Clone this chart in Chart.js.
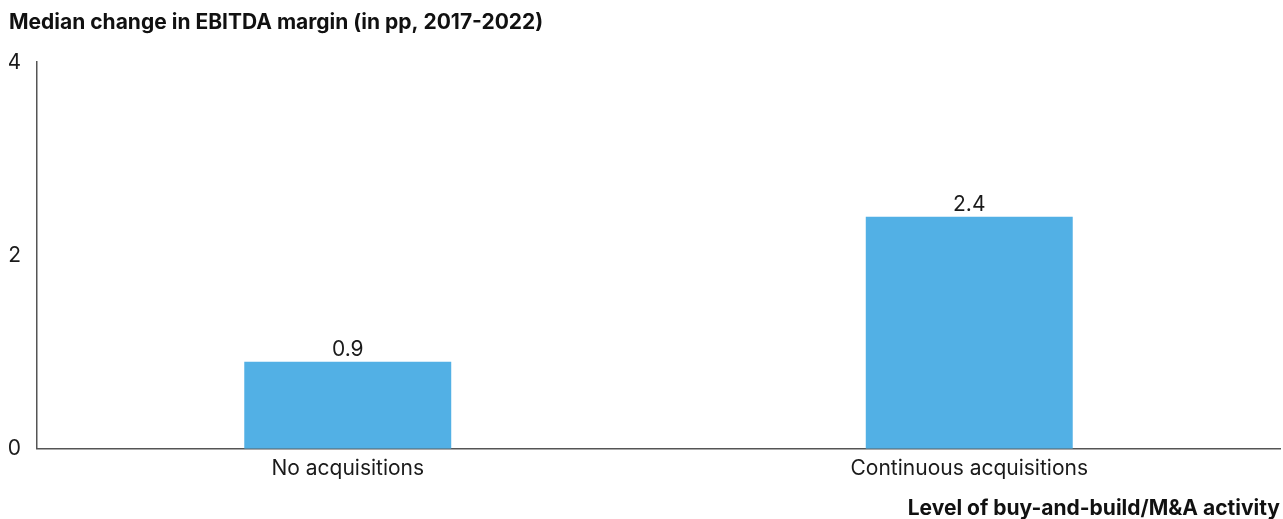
<!DOCTYPE html>
<html>
<head>
<meta charset="utf-8">
<script src="https://cdn.jsdelivr.net/npm/chart.js@4/dist/chart.umd.min.js"></script>
<style>
  html, body { margin: 0; padding: 0; background: #fff; }
  #wrap { width: 1283px; height: 519px; }
</style>
</head>
<body>
<div id="wrap"><canvas id="ebitdaChart"></canvas></div>
<script>
const categories = ["No acquisitions", "Continuous acquisitions"];
const marginChange = [0.9, 2.4];
const yTicks = [0, 2, 4];

// value labels above each bar
const barValueLabels = {
  id: "barValueLabels",
  afterDatasetsDraw(chart) {
    const ctx = chart.ctx;
    const meta = chart.getDatasetMeta(0);
    ctx.save();
    ctx.font = "21px Inter";
    ctx.fillStyle = "#1a1a1a";
    ctx.textAlign = "center";
    ctx.textBaseline = "alphabetic";
    meta.data.forEach(function (bar, i) {
      ctx.fillText(marginChange[i].toFixed(1), bar.x, bar.y - 6);
    });
    ctx.restore();
  }
};

document.addEventListener("DOMContentLoaded", function () {
  const ctx = document.getElementById("ebitdaChart");
  new Chart(ctx, {
    type: "bar",
    data: {
      labels: categories,
      datasets: [{
        data: marginChange,
        backgroundColor: "#52B0E5",
        categoryPercentage: 1,
        barPercentage: 0.333
      }]
    },
    options: {
      responsive: true,
      maintainAspectRatio: false,
      animation: false,
      layout: { padding: { left: 9, right: 3, top: 0, bottom: 0 } },
      plugins: {
        legend: { display: false },
        tooltip: { enabled: false },
        title: {
          display: true,
          text: "Median change in EBITDA margin (in pp, 2017-2022)",
          align: "start",
          color: "#111",
          font: { family: "Inter", size: 21, weight: "bold" },
          padding: { top: 10, bottom: 27 }
        }
      },
      scales: {
        x: {
          grid: { display: false, tickLength: 0 },
          border: { display: true, color: "#555", width: 1.5 },
          ticks: {
            color: "#1a1a1a",
            padding: 7,
            font: { family: "Inter", size: 21 }
          },
          title: {
            display: true,
            text: "Level of buy-and-build/M&A activity",
            align: "end",
            color: "#111",
            font: { family: "Inter", size: 21, weight: "bold", lineHeight: 1.0 },
            padding: { top: 10, bottom: 0 }
          }
        },
        y: {
          min: 0,
          max: 4,
          afterBuildTicks(scale) {
            scale.ticks = yTicks.map(v => ({ value: v }));
          },
          afterFit(scale) { scale.width = 28; },
          grid: { display: false, tickLength: 0 },
          border: { display: true, color: "#555", width: 1.5 },
          ticks: {
            color: "#1a1a1a",
            padding: 16,
            font: { family: "Inter", size: 21 }
          }
        }
      }
    },
    plugins: [barValueLabels]
  });
});
</script>
</body>
</html>
